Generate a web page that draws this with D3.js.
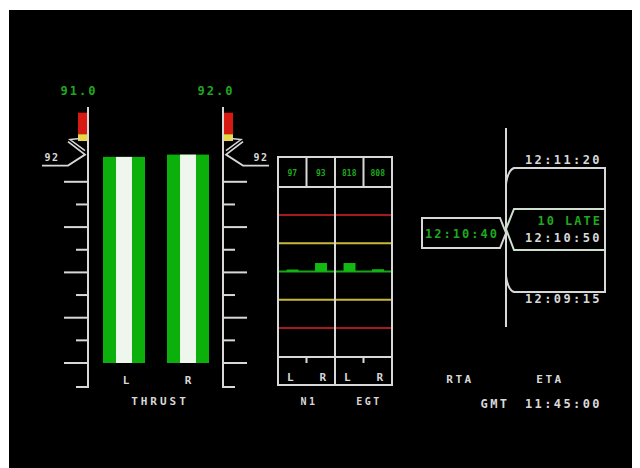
<!DOCTYPE html>
<html><head><meta charset="utf-8">
<script src="https://cdn.jsdelivr.net/npm/d3@7"></script>
<style>
html,body{margin:0;padding:0;background:#fff;}
svg{display:block;}
text{font-family:"DejaVu Sans Mono",monospace;font-weight:bold;}
</style></head>
<body>
<script>
// ---- data ----
const engines = ["L","R"];
const thrustValues = [91.0, 92.0];
const thrustLabels = ["91.0","92.0"];
const thrustBug = [92, 92];
const thrustTicksMajor = [0,20,40,60,80];
const thrustTicksMinor = [10,30,50,70];
const redBand = [101, 110.5];
const yellowBand = [98, 101];

const n1egtCols = ["N1 L","N1 R","EGT L","EGT R"];
const n1egtHeader = ["97","93","818","808"];
const n1egtDev = [0.07, 0.3, 0.3, 0.08];
const n1egtLabels = ["L","R","L","R"];
const groupLabels = ["N1","EGT"];

const etaTimes = ["12:11:20","12:10:50","12:09:15"];
const rtaTime = "12:10:40";
const lateText = "10 LATE";
const gmtText = "11:45:00";

// ---- setup ----
const W=640,H=468;
const svg=d3.select("body").append("svg").attr("width",W).attr("height",H);
svg.append("rect").attr("x",9).attr("y",10).attr("width",623).attr("height",458).attr("fill","#000");

const WHITE="#d8d8d8", GREEN="#1fa81f";

// ---- thrust gauges ----
const ty=d3.scaleLinear().domain([0,100]).range([363,136.5]);
const tx=d3.scaleBand().domain(engines).range([103,209]).paddingInner(0.344).paddingOuter(0);
const gaugeX={L:88,R:223};
const dir={L:-1,R:1};
const labelOffset={L:-9,R:-7};

engines.forEach((e,i)=>{
  const g=svg.append("g");
  const gx=gaugeX[e], d=dir[e];
  g.append("rect").attr("x",d<0?gx-10:gx).attr("width",10)
    .attr("y",ty(redBand[1])).attr("height",ty(redBand[0])-ty(redBand[1])).attr("fill","#d61a12");
  g.append("rect").attr("x",d<0?gx-10:gx).attr("width",10)
    .attr("y",ty(yellowBand[1])).attr("height",ty(yellowBand[0])-ty(yellowBand[1])).attr("fill","#e8d848");
  g.append("path").attr("d",`M${gx},107 L${gx},387 L${gx+d*12},387`)
    .attr("fill","none").attr("stroke",WHITE).attr("stroke-width",2);
  g.selectAll(".maj").data(thrustTicksMajor).join("line")
    .attr("x1",gx).attr("x2",gx+d*24).attr("y1",v=>ty(v)).attr("y2",v=>ty(v))
    .attr("stroke",WHITE).attr("stroke-width",2);
  g.selectAll(".min").data(thrustTicksMinor).join("line")
    .attr("x1",gx).attr("x2",gx+d*12).attr("y1",v=>ty(v)).attr("y2",v=>ty(v))
    .attr("stroke",WHITE).attr("stroke-width",2);
  const by=ty(thrustBug[i]);
  g.append("path").attr("d",`M${gx+d*46},${by+11} L${gx+d*20},${by+11} L${gx+d*3},${by} L${gx+d*20},${by-13}`)
    .attr("fill","none").attr("stroke",WHITE).attr("stroke-width",1.8);
  g.append("path").attr("d",`M${gx+d*3},${by-4} L${gx+d*18},${by-15} L${gx+d*8},${by-16}`)
    .attr("fill","none").attr("stroke",WHITE).attr("stroke-width",1.5);
  g.append("text").attr("x",gx+d*37+1).attr("y",by+6).attr("text-anchor","middle")
    .attr("font-size",10).attr("letter-spacing",1.5).attr("fill",WHITE).text(thrustBug[i]);
  g.append("text").attr("x",gx+labelOffset[e]).attr("y",95).attr("text-anchor","middle")
    .attr("font-size",12).attr("letter-spacing",2).attr("fill",GREEN).text(thrustLabels[i]);
  g.append("rect").attr("x",tx(e)).attr("width",tx.bandwidth())
    .attr("y",ty(thrustValues[i])).attr("height",ty(0)-ty(thrustValues[i])).attr("fill","#0bb00b");
  g.append("rect").attr("x",tx(e)+tx.bandwidth()*0.31).attr("width",tx.bandwidth()*0.38)
    .attr("y",ty(thrustValues[i])).attr("height",ty(0)-ty(thrustValues[i])).attr("fill","#eef6ee");
  g.append("text").attr("x",tx(e)+tx.bandwidth()/2+(d<0?2:0)).attr("y",384).attr("text-anchor","middle")
    .attr("font-size",11).attr("fill",WHITE).text(e);
});
svg.append("text").attr("x",160).attr("y",405).attr("text-anchor","middle")
  .attr("font-size",11).attr("letter-spacing",3).attr("fill",WHITE).text("THRUST");

// ---- N1 / EGT ----
const nx=d3.scaleBand().domain(n1egtCols).range([278,392]);
const ny=d3.scaleLinear().domain([-2,2]).range([328,215]);
const box=svg.append("g");
const bx0=278,bx1=392,by0=157,by1=385,hy=187,fy=357;
[[2,"#a8191c"],[1,"#c8b83a"],[-1,"#c8b83a"],[-2,"#a8191c"]].forEach(([v,c])=>{
  box.append("line").attr("x1",bx0).attr("x2",bx1).attr("y1",ny(v)).attr("y2",ny(v)).attr("stroke",c).attr("stroke-width",2);
});
box.append("line").attr("x1",bx0).attr("x2",bx1).attr("y1",ny(0)).attr("y2",ny(0)).attr("stroke","#13a813").attr("stroke-width",2);
box.selectAll(".bar").data(n1egtDev).join("rect")
  .attr("x",(d,i)=>nx(n1egtCols[i])+nx.bandwidth()*0.3).attr("width",nx.bandwidth()*0.42)
  .attr("y",d=>ny(d)).attr("height",d=>ny(0)-ny(d)).attr("fill","#13b813");
box.append("rect").attr("x",bx0).attr("y",by0).attr("width",bx1-bx0).attr("height",by1-by0)
  .attr("fill","none").attr("stroke",WHITE).attr("stroke-width",2);
box.append("line").attr("x1",nx("EGT L")).attr("x2",nx("EGT L")).attr("y1",by0).attr("y2",by1).attr("stroke",WHITE).attr("stroke-width",2);
box.append("line").attr("x1",bx0).attr("x2",bx1).attr("y1",hy).attr("y2",hy).attr("stroke",WHITE).attr("stroke-width",2);
box.append("line").attr("x1",bx0).attr("x2",bx1).attr("y1",fy).attr("y2",fy).attr("stroke",WHITE).attr("stroke-width",2);
["N1 R","EGT R"].forEach(c=>{
  box.append("line").attr("x1",nx(c)).attr("x2",nx(c)).attr("y1",by0).attr("y2",hy).attr("stroke",WHITE).attr("stroke-width",2);
  box.append("line").attr("x1",nx(c)).attr("x2",nx(c)).attr("y1",fy).attr("y2",fy+6).attr("stroke",WHITE).attr("stroke-width",2);
});
box.selectAll(".hdr").data(n1egtHeader).join("text")
  .attr("x",(d,i)=>nx(n1egtCols[i])+nx.bandwidth()/2).attr("y",176).attr("text-anchor","middle")
  .attr("font-size",8).attr("fill",GREEN).text(d=>d);
box.selectAll(".lr").data(n1egtLabels).join("text")
  .attr("x",(d,i)=>nx(n1egtCols[i])+nx.bandwidth()/2+(d==="L"?-2:2)).attr("y",381).attr("text-anchor","middle")
  .attr("font-size",11).attr("fill",WHITE).text(d=>d);
box.selectAll(".grp").data(groupLabels).join("text")
  .attr("x",(d,i)=>i===0?309:369).attr("y",405).attr("text-anchor","middle")
  .attr("font-size",10).attr("letter-spacing",2.5).attr("fill",WHITE).text(d=>d);

// ---- RTA / ETA panel ----
const vx=506;
const rp=svg.append("g");
rp.append("line").attr("x1",vx).attr("x2",vx).attr("y1",128).attr("y2",327).attr("stroke",WHITE).attr("stroke-width",2);
const rx=605, lx=514;
rp.append("path").attr("d",`M${vx},184 Q${vx+2},170 ${lx},168 L${rx},168 L${rx},292 L${lx},292 Q${vx+2},290 ${vx},276`)
  .attr("fill","none").attr("stroke",WHITE).attr("stroke-width",2);
rp.append("path").attr("d",`M${rx},209 L${lx},209 L${vx},229 L${lx},250 L${rx},250`)
  .attr("fill","none").attr("stroke","#cfe0cf").attr("stroke-width",2);
rp.append("path").attr("d",`M${vx-6},218 L422,218 L422,248 L${vx-6},248 L${vx},233 Z`)
  .attr("fill","none").attr("stroke",WHITE).attr("stroke-width",2);
rp.append("text").attr("x",462).attr("y",238).attr("text-anchor","middle").attr("font-size",12)
  .attr("letter-spacing",2).attr("fill",GREEN).text(rtaTime);
const etaY=[164,242,303];
rp.selectAll(".eta").data(etaTimes).join("text")
  .attr("x",602).attr("y",(d,i)=>etaY[i]).attr("text-anchor","end").attr("font-size",12)
  .attr("letter-spacing",2.4).attr("fill",WHITE).text(d=>d);
rp.append("text").attr("x",602).attr("y",225).attr("text-anchor","end").attr("font-size",12)
  .attr("letter-spacing",2).attr("fill",GREEN).text(lateText);
rp.append("text").attr("x",460).attr("y",383).attr("text-anchor","middle").attr("font-size",11).attr("letter-spacing",2.5).attr("fill",WHITE).text("RTA");
rp.append("text").attr("x",550).attr("y",383).attr("text-anchor","middle").attr("font-size",11).attr("letter-spacing",2.5).attr("fill",WHITE).text("ETA");
rp.append("text").attr("x",495).attr("y",408).attr("text-anchor","middle").attr("font-size",12).attr("letter-spacing",2.5).attr("fill",WHITE).text("GMT");
rp.append("text").attr("x",602).attr("y",408).attr("text-anchor","end").attr("font-size",12).attr("letter-spacing",2.4).attr("fill",WHITE).text(gmtText);
</script>
</body></html>
